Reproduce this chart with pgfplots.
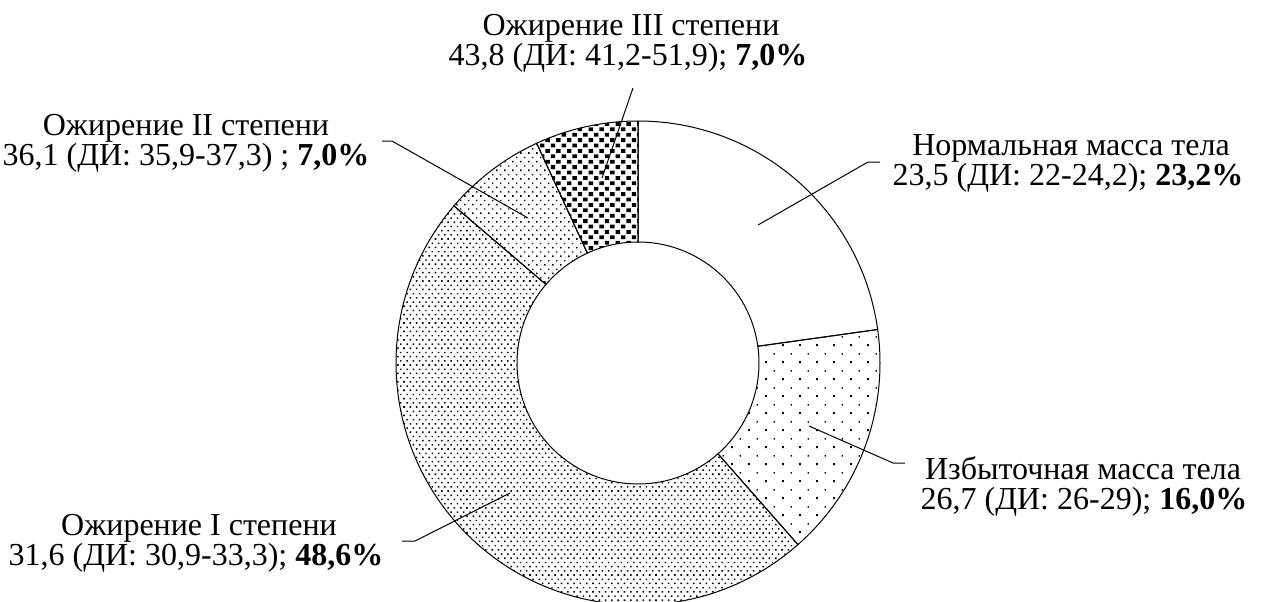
\documentclass[border=0pt]{standalone}
\usepackage{pgfplots}
\pgfplotsset{compat=1.18}
\usepackage{pgfplotstable}
\usepackage{fontspec}
\setmainfont{Liberation Serif}
\usetikzlibrary{patterns}

% fill patterns of the slices (1 px of the reference = 0.5pt)
\pgfdeclarepatternformonly{sparsedots}{\pgfqpoint{-1pt}{-1pt}}{\pgfqpoint{9.5pt}{9.5pt}}{\pgfqpoint{8.5pt}{8.5pt}}{%
  \pgfpathrectangle{\pgfqpoint{0pt}{0pt}}{\pgfqpoint{0.9pt}{0.9pt}}%
  \pgfpathrectangle{\pgfqpoint{4.25pt}{4.25pt}}{\pgfqpoint{0.7pt}{0.7pt}}%
  \pgfusepath{fill}}
\pgfdeclarepatternformonly{densedots}{\pgfqpoint{-1pt}{-1pt}}{\pgfqpoint{4pt}{5pt}}{\pgfqpoint{3.15pt}{4.2pt}}{%
  \pgfpathrectangle{\pgfqpoint{0pt}{0pt}}{\pgfqpoint{0.8pt}{0.8pt}}%
  \pgfpathrectangle{\pgfqpoint{1.575pt}{2.1pt}}{\pgfqpoint{0.7pt}{0.7pt}}%
  \pgfusepath{fill}}
\pgfdeclarepatternformonly{middots}{\pgfqpoint{-1pt}{-1pt}}{\pgfqpoint{5pt}{5pt}}{\pgfqpoint{4pt}{4.3pt}}{%
  \pgfpathrectangle{\pgfqpoint{0pt}{0pt}}{\pgfqpoint{0.8pt}{0.8pt}}%
  \pgfpathrectangle{\pgfqpoint{2pt}{2.15pt}}{\pgfqpoint{0.65pt}{0.65pt}}%
  \pgfusepath{fill}}
\pgfdeclarepatternformonly{squares}{\pgfqpoint{-1pt}{-1pt}}{\pgfqpoint{6.4pt}{6.4pt}}{\pgfqpoint{5.4pt}{5.4pt}}{%
  \pgfpathrectangle{\pgfqpoint{0pt}{0pt}}{\pgfqpoint{2.2pt}{1.9pt}}%
  \pgfpathrectangle{\pgfqpoint{2.7pt}{2.7pt}}{\pgfqpoint{2.2pt}{1.9pt}}%
  \pgfusepath{fill}}

\pgfplotstableread{
label pct
Normal 23.2
Over   16.0
ObI    48.6
ObII   7.0
ObIII  7.0
}\shares

% one annular sector, angles in degrees, centre in pixel units of the axis
\newcommand\slice[3]{%
  \filldraw[#3, draw=black, line width=0.5pt, shift={(axis cs:638,363)}]
    (#1:121pt) arc[start angle=#1, end angle=#2, radius=121pt]
    -- (#2:60.5pt) arc[start angle=#2, end angle=#1, radius=60.5pt] -- cycle;}
\newcommand\ang[1]{\csname ang#1\endcsname}
\tikzset{lbl/.style={font=\fontsize{16}{15}\selectfont, anchor=base, inner sep=0pt}}

\begin{document}
\begin{tikzpicture}
% boundaries: start at 12 o'clock, go clockwise
\pgfmathsetmacro\total{0}
\pgfplotsforeachungrouped \i in {0,...,4}{%
  \pgfplotstablegetelem{\i}{pct}\of\shares
  \pgfmathsetmacro\total{\total+\pgfplotsretval}}
\pgfmathsetmacro\cum{0}
\expandafter\xdef\csname ang0\endcsname{90}
\pgfplotsforeachungrouped \i in {0,...,4}{%
  \pgfplotstablegetelem{\i}{pct}\of\shares
  \pgfmathsetmacro\cum{\cum+\pgfplotsretval}
  \pgfmathtruncatemacro\j{\i+1}
  \pgfmathsetmacro\a{90-360*(\cum/\total)}
  \expandafter\xdef\csname ang\j\endcsname{\a}}
\useasboundingbox (0,0) rectangle (632pt,300.5pt);
\begin{axis}[
  at={(0,0)}, anchor=south west,
  width=632pt, height=300.5pt, scale only axis,
  xmin=0, xmax=1264, ymin=0, ymax=601, y dir=reverse,
  hide axis, clip=false
]
\slice{\ang{0}}{\ang{1}}{fill=white}
\slice{\ang{1}}{\ang{2}}{pattern=sparsedots}
\slice{\ang{2}}{\ang{3}}{pattern=densedots}
\slice{\ang{3}}{\ang{4}}{pattern=middots}
\slice{\ang{4}}{\ang{5}}{pattern=squares}

% leader lines
\draw[line width=0.5pt] (axis cs:633,88) -- (axis cs:602,178);
\draw[line width=0.5pt] (axis cs:382,141) -- (axis cs:392,141) -- (axis cs:528,218);
\draw[line width=0.5pt] (axis cs:880,162) -- (axis cs:868,162) -- (axis cs:758,225);
\draw[line width=0.5pt] (axis cs:905,463) -- (axis cs:893,463) -- (axis cs:809,426);
\draw[line width=0.5pt] (axis cs:402,541) -- (axis cs:415,541) -- (axis cs:510,493);

% labels
\node[lbl] at (axis cs:631,35) {Ожирение III степени};
\node[lbl] at (axis cs:628,65) {43,8 (ДИ: 41,2-51,9); \textbf{7,0\%}};
\node[lbl] at (axis cs:186,135) {Ожирение II степени};
\node[lbl] at (axis cs:186,165) {36,1 (ДИ: 35,9-37,3) ; \textbf{7,0\%}};
\node[lbl] at (axis cs:1071,155) {Нормальная масса тела};
\node[lbl] at (axis cs:1068,185) {23,5 (ДИ: 22-24,2); \textbf{23,2\%}};
\node[lbl] at (axis cs:1083,479) {Избыточная масса тела};
\node[lbl] at (axis cs:1084,509) {26,7 (ДИ: 26-29); \textbf{16,0\%}};
\node[lbl] at (axis cs:199,535) {Ожирение I степени};
\node[lbl] at (axis cs:196,565) {31,6 (ДИ: 30,9-33,3); \textbf{48,6\%}};
\end{axis}
\end{tikzpicture}
\end{document}
